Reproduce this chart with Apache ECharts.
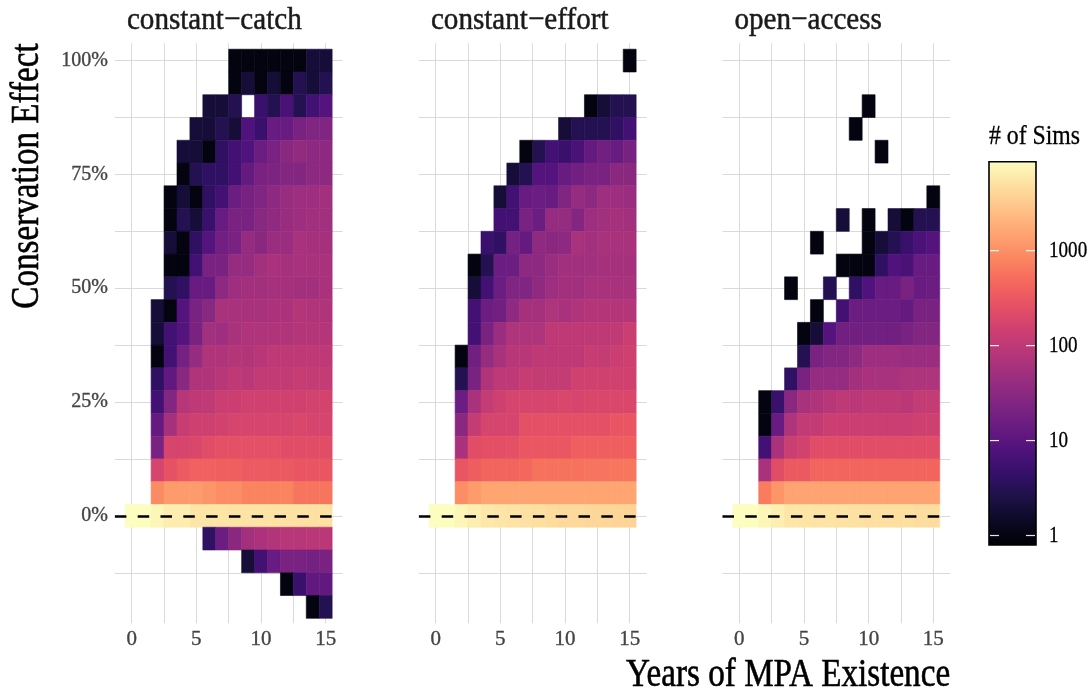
<!DOCTYPE html>
<html>
<head>
<meta charset="utf-8">
<script src="https://cdn.jsdelivr.net/npm/echarts@6/dist/echarts.min.js"></script>
<style>
  html, body { margin: 0; padding: 0; background: #ffffff; }
  #chart { width: 1092px; height: 696px; }
</style>
</head>
<body>
<div id="chart"></div>
<script>
// Years since the MPA was created (one column per year)
const years = [0, 1, 2, 3, 4, 5, 6, 7, 8, 9, 10, 11, 12, 13, 14, 15];
// Conservation-effect bins (percent), one row per bin, top to bottom
const effectBins = [100, 95, 90, 85, 80, 75, 70, 65, 60, 55, 50, 45, 40, 35, 30, 25, 20, 15, 10, 5, 0, -5, -10, -15, -20];
const panelNames = ['constant−catch', 'constant−effort', 'open−access'];

// Number of simulations per (effect bin, year); 0 = no simulation in that cell
const catchCounts = [
  [0,0,0,0,0,0,0,0,1,1,1,1,1,1,2,2],
  [0,0,0,0,0,0,0,0,1,2,1,2,1,3,2,3],
  [0,0,0,0,0,0,2,2,3,0,5,3,7,3,6,9],
  [0,0,0,0,0,2,2,3,2,8,5,14,14,21,25,25],
  [0,0,0,0,2,2,1,4,6,8,15,21,31,37,33,33],
  [0,0,0,0,1,3,4,4,6,13,21,23,26,26,33,33],
  [0,0,0,1,2,1,4,6,15,20,25,33,42,48,48,54],
  [0,0,0,1,3,2,5,14,21,21,29,35,42,48,52,52],
  [0,0,0,2,1,4,9,17,21,40,31,44,44,60,57,57],
  [0,0,0,1,1,6,21,21,40,40,54,63,57,60,60,60],
  [0,0,0,3,4,14,14,33,48,54,54,57,57,54,54,63],
  [0,0,2,1,9,21,29,63,63,63,60,66,66,80,73,73],
  [0,0,2,6,9,21,52,48,60,73,73,73,73,80,80,80],
  [0,0,1,6,19,40,73,73,80,76,88,100,100,100,100,100],
  [0,0,4,12,31,73,73,86,100,92,110,110,110,120,115,115],
  [0,0,6,26,82,100,105,133,133,152,152,152,152,152,165,165],
  [0,0,13,57,120,145,145,160,175,175,175,175,175,190,175,175],
  [0,0,21,175,175,190,235,255,255,255,255,255,235,235,235,235],
  [0,0,175,270,340,390,390,375,375,340,340,325,325,300,300,300],
  [0,0,900,1250,1250,1250,1130,940,940,780,780,780,780,590,590,590],
  [8650,8650,7600,6400,6400,5400,5300,5300,5200,5200,5100,5100,5000,5000,4900,4900],
  [0,0,0,0,0,0,4,15,31,54,66,76,86,86,92,92],
  [0,0,0,0,0,0,0,0,0,2,6,14,21,21,19,21],
  [0,0,0,0,0,0,0,0,0,0,0,0,1,5,12,12],
  [0,0,0,0,0,0,0,0,0,0,0,0,0,0,1,3]
];

const effortCounts = [
  [0,0,0,0,0,0,0,0,0,0,0,0,0,0,0,1],
  [0,0,0,0,0,0,0,0,0,0,0,0,0,0,0,0],
  [0,0,0,0,0,0,0,0,0,0,0,0,1,2,3,3],
  [0,0,0,0,0,0,0,0,0,0,2,3,3,3,4,6],
  [0,0,0,0,0,0,0,1,3,6,5,7,13,17,14,20],
  [0,0,0,0,0,0,2,3,9,9,14,17,21,21,31,31],
  [0,0,0,0,0,2,6,14,15,14,25,40,33,48,48,44],
  [0,0,0,0,0,6,6,21,15,40,40,26,48,52,57,54],
  [0,0,0,0,5,4,19,13,35,31,33,60,54,60,60,60],
  [0,0,0,1,3,15,15,33,33,44,52,52,52,57,57,57],
  [0,0,0,2,6,15,25,25,35,48,54,52,60,60,60,60],
  [0,0,0,6,15,17,35,57,57,70,63,73,80,80,80,80],
  [0,0,0,6,21,44,70,70,70,100,100,100,100,100,105,133],
  [0,0,1,17,40,60,86,86,100,100,100,100,120,115,133,145],
  [0,0,3,21,73,100,100,120,115,115,115,152,152,152,152,152],
  [0,0,15,63,115,145,175,175,175,175,190,175,190,190,190,190],
  [0,0,31,115,175,175,175,255,255,255,255,255,255,255,295,295],
  [0,0,63,235,250,250,255,310,310,310,310,375,375,375,375,375],
  [0,0,290,360,420,420,420,450,560,560,560,560,580,580,600,600],
  [0,0,940,1250,1500,1500,1500,1500,1500,1500,1500,1500,1500,1500,1500,1500],
  [8650,8650,7600,6600,5700,5400,5100,4900,4700,4500,4300,4200,4100,4000,3900,3800],
  [0,0,0,0,0,0,0,0,0,0,0,0,0,0,0,0],
  [0,0,0,0,0,0,0,0,0,0,0,0,0,0,0,0],
  [0,0,0,0,0,0,0,0,0,0,0,0,0,0,0,0],
  [0,0,0,0,0,0,0,0,0,0,0,0,0,0,0,0]
];

const openCounts = [
  [0,0,0,0,0,0,0,0,0,0,0,0,0,0,0,0],
  [0,0,0,0,0,0,0,0,0,0,0,0,0,0,0,0],
  [0,0,0,0,0,0,0,0,0,0,1,0,0,0,0,0],
  [0,0,0,0,0,0,0,0,0,1,0,0,0,0,0,0],
  [0,0,0,0,0,0,0,0,0,0,0,1,0,0,0,0],
  [0,0,0,0,0,0,0,0,0,0,0,0,0,0,0,0],
  [0,0,0,0,0,0,0,0,0,0,0,0,0,0,0,1],
  [0,0,0,0,0,0,0,0,2,0,1,0,2,1,3,3],
  [0,0,0,0,0,0,1,0,0,0,1,2,3,5,7,9],
  [0,0,0,0,0,0,0,0,1,1,1,4,8,7,14,14],
  [0,0,0,0,1,0,0,3,0,4,8,14,14,21,14,15],
  [0,0,0,0,0,0,1,0,6,15,15,15,15,13,21,21],
  [0,0,0,0,0,1,2,9,17,17,17,17,17,21,26,26],
  [0,0,0,0,0,3,21,26,26,33,48,48,48,44,44,44],
  [0,0,0,0,4,21,40,40,40,54,63,60,63,70,70,70],
  [0,0,1,5,31,60,73,86,100,92,100,100,100,92,115,115],
  [0,0,1,14,70,110,110,133,133,133,133,133,133,133,145,145],
  [0,0,6,63,133,160,235,235,235,235,235,235,235,235,235,235],
  [0,0,63,235,325,325,420,420,420,420,420,420,420,420,420,420],
  [0,0,680,1130,1450,1450,1450,1450,1450,1450,1450,1450,1450,1450,1450,1450],
  [8650,8650,7600,6500,5500,5300,5200,5100,5000,4900,4800,4800,4700,4700,4600,4600],
  [0,0,0,0,0,0,0,0,0,0,0,0,0,0,0,0],
  [0,0,0,0,0,0,0,0,0,0,0,0,0,0,0,0],
  [0,0,0,0,0,0,0,0,0,0,0,0,0,0,0,0],
  [0,0,0,0,0,0,0,0,0,0,0,0,0,0,0,0]
];

// Axis breaks
const xLabelValues = [0, 5, 10, 15];
const xGridValues = [0, 2.5, 5, 7.5, 10, 12.5, 15];
const yLabelValues = [0, 25, 50, 75, 100];
const yGridValues = [-12.5, 0, 12.5, 25, 37.5, 50, 62.5, 75, 87.5, 100];
const legendBreaks = [1, 10, 100, 1000];

// Bin sizes of the 2-D histogram
const YEAR_BIN = 1;
const EFFECT_BIN = 5;

// magma palette, low -> high
const MAGMA = ['#000004', '#0b0924', '#1d1147', '#35106a', '#51127c', '#6a1c81', '#822681', '#9c2e7f',
  '#b63679', '#cf4070', '#e65164', '#f5695c', '#fb8861', '#fea572', '#fec287', '#fde0a1', '#fcfdbf'];

const FONT = '"Liberation Serif", "Times New Roman", serif';
const panels = [catchCounts, effortCounts, openCounts];

// log10 colour scale limits
let maxCount = 1;
panels.forEach(p => p.forEach(r => r.forEach(v => { if (v > maxCount) maxCount = v; })));
const LOG_MIN = -0.1;
const LOG_MAX = Math.log10(maxCount);

function cells(counts) {
  const out = [];
  effectBins.forEach((eff, ri) => {
    years.forEach((yr, ci) => {
      const n = counts[ri][ci];
      if (n > 0) out.push([yr, eff, Math.log10(n), n]);
    });
  });
  return out;
}

// Panel placement
const gridLefts = [114.9, 418.9, 722.5];
const GRID_TOP = 43.3, GRID_W = 227.6, GRID_H = 580;
const X_MIN = -1.3, X_MAX = 16.3, Y_MIN = -23.6, Y_MAX = 103.8;

function renderCell(params, api) {
  const x = api.value(0), y = api.value(1);
  const a = api.coord([x - YEAR_BIN / 2, y + EFFECT_BIN / 2]);
  const b = api.coord([x + YEAR_BIN / 2, y - EFFECT_BIN / 2]);
  const c = api.visual('color');
  return {
    type: 'rect',
    shape: { x: a[0], y: a[1], width: b[0] - a[0], height: b[1] - a[1] },
    style: { fill: c, stroke: c, lineWidth: 0.6 }
  };
}

const tickText = { color: '#444444', fontFamily: FONT, textBorderColor: '#444444', textBorderWidth: 0.35 };

const grids = [], xAxes = [], yAxes = [], series = [];
panels.forEach((counts, i) => {
  grids.push({ left: gridLefts[i], top: GRID_TOP, width: GRID_W, height: GRID_H, containLabel: false });
  xAxes.push({
    type: 'value', gridIndex: i, min: X_MIN, max: X_MAX,
    axisLine: { show: false },
    axisTick: { show: false, customValues: xGridValues },
    axisLabel: Object.assign({ customValues: xLabelValues, fontSize: 21, margin: 6 }, tickText),
    splitLine: { show: true, lineStyle: { color: '#d9d9d9', width: 1 } }
  });
  yAxes.push({
    type: 'value', gridIndex: i, min: Y_MIN, max: Y_MAX,
    axisLine: { show: false },
    axisTick: { show: false, customValues: yGridValues },
    axisLabel: Object.assign({
      show: i === 0, customValues: yLabelValues, fontSize: 20, margin: 7,
      formatter: v => v + '%'
    }, tickText),
    splitLine: { show: true, lineStyle: { color: '#d9d9d9', width: 1 } }
  });
  series.push({
    type: 'custom', name: panelNames[i], xAxisIndex: i, yAxisIndex: i,
    data: cells(counts), encode: { x: 0, y: 1 },
    renderItem: renderCell, silent: true, z: 2,
    markLine: {
      silent: true, symbol: ['none', 'none'], label: { show: false }, animation: false,
      lineStyle: { color: '#000000', width: 2.6, type: [11.5, 11.3] },
      emphasis: { disabled: true },
      data: [{ yAxis: 0 }]
    }
  });
});

function label(text, x, y, size, squeeze, align, weight, extra) {
  return Object.assign({
    type: 'text', x: x, y: y, scaleX: squeeze, scaleY: 1,
    style: {
      text: text, font: size + 'px ' + FONT, fill: '#000', align: align, verticalAlign: 'middle',
      textAlign: align, textVerticalAlign: 'middle', stroke: '#000', lineWidth: weight
    }
  }, extra || {});
}

// Colour bar
const BAR_X = 989, BAR_Y = 161.7, BAR_W = 47, BAR_H = 383.3;
const barStops = MAGMA.map((c, k) => ({ offset: k / (MAGMA.length - 1), color: c }));
const legendEls = [
  label('# of Sims', BAR_X, 137, 27, 0.88, 'left', 0.3),
  { type: 'rect', shape: { x: BAR_X, y: BAR_Y, width: BAR_W, height: BAR_H },
    style: { fill: { type: 'linear', x: 0, y: 1, x2: 0, y2: 0, colorStops: barStops }, stroke: '#000', lineWidth: 1.6 } }
];
legendBreaks.forEach(v => {
  const yy = BAR_Y + BAR_H - (Math.log10(v) - LOG_MIN) / (LOG_MAX - LOG_MIN) * BAR_H;
  legendEls.push({ type: 'line', shape: { x1: BAR_X + 1, y1: yy, x2: BAR_X + 10, y2: yy }, style: { stroke: 'rgba(255,255,255,0.9)', lineWidth: 1.2 } });
  legendEls.push({ type: 'line', shape: { x1: BAR_X + BAR_W - 10, y1: yy, x2: BAR_X + BAR_W - 1, y2: yy }, style: { stroke: 'rgba(255,255,255,0.9)', lineWidth: 1.2 } });
  legendEls.push(label(String(v), 1049, yy, 23, 0.83, 'left', 0.3));
});

// Facet strip titles and axis titles
const titleEls = panelNames.map((name, i) => {
  const el = label(name, gridLefts[i] + 12, 21, 32, 0.91, 'left', 0.5);
  el.style.fill = '#1a1a1a';
  el.style.stroke = '#1a1a1a';
  return el;
});
titleEls.push(label('Conservation Effect', 28, GRID_TOP, 39, 0.85, 'right', 0.6, { rotation: Math.PI / 2 }));
titleEls.push(label('Years of MPA Existence', gridLefts[2] + GRID_W, 676, 39, 0.85, 'right', 0.6));

const chart = echarts.init(document.getElementById('chart'), null, { renderer: 'canvas' });
chart.setOption({
  backgroundColor: '#ffffff',
  animation: false,
  grid: grids,
  xAxis: xAxes,
  yAxis: yAxes,
  visualMap: {
    type: 'continuous', show: false, dimension: 2, seriesIndex: [0, 1, 2],
    min: LOG_MIN, max: LOG_MAX, inRange: { color: MAGMA }
  },
  series: series,
  graphic: { elements: legendEls.concat(titleEls) }
});
</script>
</body>
</html>
